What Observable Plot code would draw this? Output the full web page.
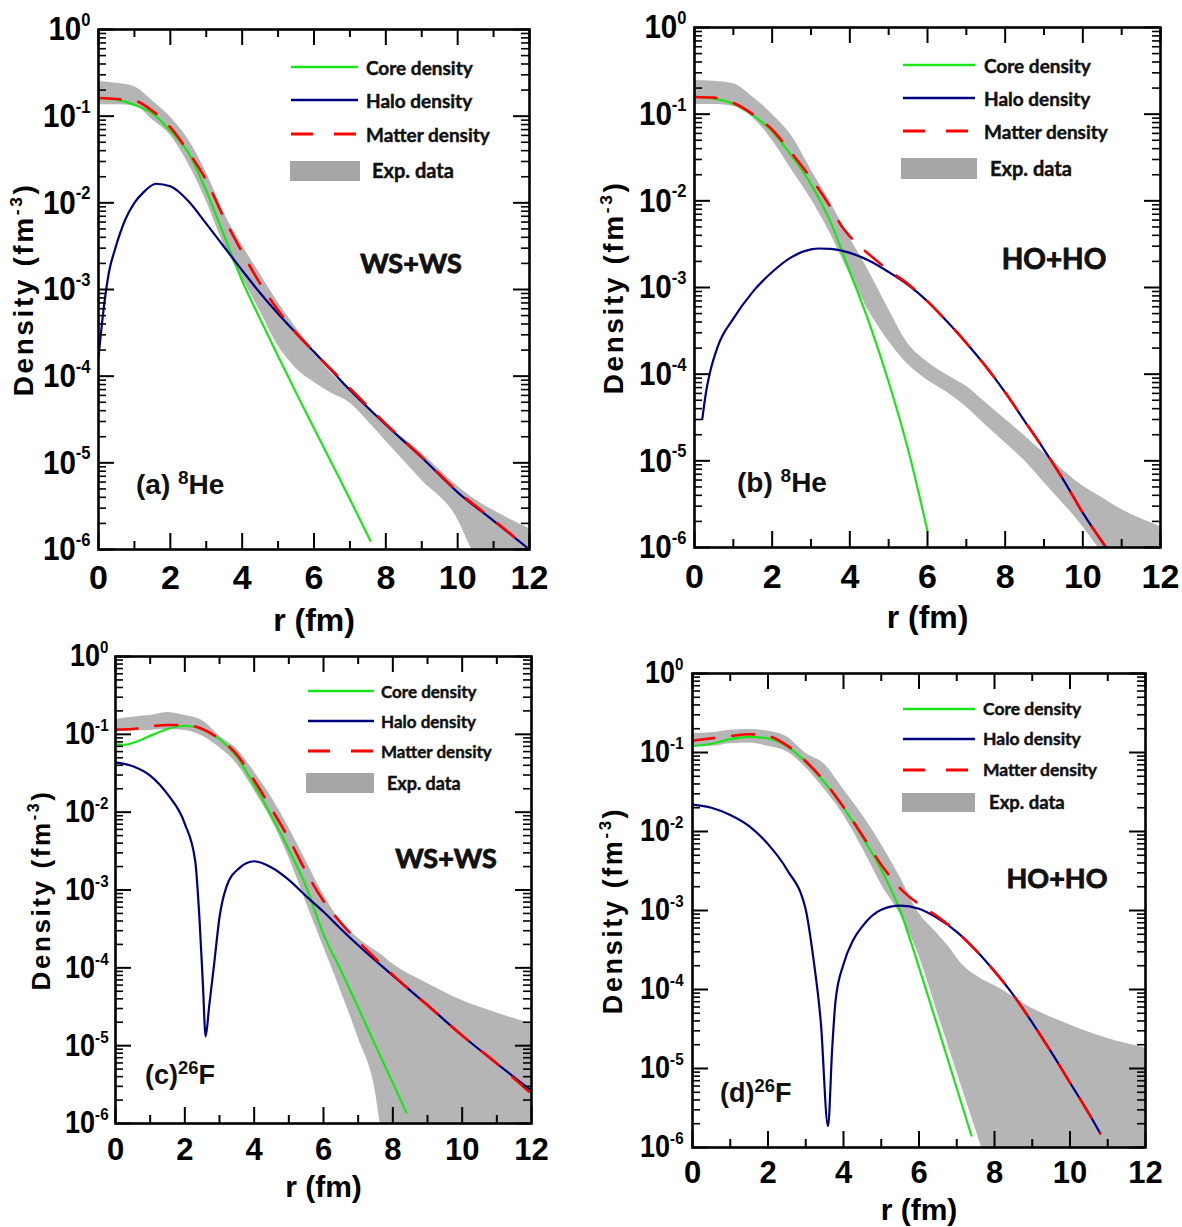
<!DOCTYPE html>
<html><head><meta charset="utf-8">
<script src="https://cdn.jsdelivr.net/npm/d3@7"></script>
<script src="https://cdn.jsdelivr.net/npm/@observablehq/plot@0.6"></script>
<style>
body{margin:0;background:#fff;}
#fig{position:relative;width:1182px;height:1227px;overflow:hidden;background:#fff}
.panel{position:absolute}
.txt{position:absolute;white-space:nowrap;color:#111;line-height:1}
.leg{font-family:Lato,"Open Sans",sans-serif;font-weight:700;transform:translateY(-50%);-webkit-text-stroke:0.45px #111}
.model{font-family:Lato,"Open Sans",sans-serif;font-weight:700;transform:translate(-50%,-50%);-webkit-text-stroke:0.9px #111}
.plab{font-family:"Liberation Sans Narrow","Arial Narrow","Liberation Sans",Arial,sans-serif;font-weight:700;transform:translateY(-50%)}
.plab sup{font-size:0.68em;vertical-align:0.5em;line-height:0}
</style></head><body><div id="fig"></div><script>
// ---------------- axis ticks ----------------
const xTicks = [0, 2, 4, 6, 8, 10, 12];
const xMinor = [1, 3, 5, 7, 9, 11];
const yTicks = [1e-6, 1e-5, 1e-4, 1e-3, 1e-2, 1e-1, 1];
const yTickLabels = ["10^{-6}", "10^{-5}", "10^{-4}", "10^{-3}", "10^{-2}", "10^{-1}", "10^{0}"];
const yMinor = d3.range(-6, 0).flatMap(e => d3.range(2, 10).map(k => k * Math.pow(10, e)));
const seriesNames = ["Core density", "Halo density", "Matter density", "Exp. data"];

// ---------------- (a) 8He WS+WS ----------------
const rCoreA = [0,0.5,1,1.5,2,2.5,3,3.5,4,4.5,5,5.5,6,6.5,7,7.57];
const coreA = [1.62e-1,1.55e-1,1.35e-1,1.08e-1,6.76e-2,3.80e-2,1.38e-2,4.17e-3,1.26e-3,4.57e-4,1.70e-4,6.46e-5,2.51e-5,9.77e-6,3.80e-6,1.26e-6];
const rHaloA = [0,0.15,0.3,0.45,0.75,1,1.25,1.6,2,2.5,3,3.5,4,4.5,5,6,7,8,9,10,11,12];
const haloA = [1.66e-4,6.31e-4,1.66e-3,2.82e-3,6.46e-3,1.0e-2,1.32e-2,1.66e-2,1.55e-2,1.05e-2,5.75e-3,3.09e-3,1.66e-3,9.12e-4,5.25e-4,1.91e-4,6.92e-5,2.75e-5,1.15e-5,4.57e-6,2.14e-6,1.0e-6];
const rMatterA = [0,0.5,1,1.5,2,2.5,3,3.5,4,4.5,5,5.5,6,7,8,9,10,11,12];
const matterA = [1.62e-1,1.58e-1,1.51e-1,1.15e-1,7.41e-2,3.89e-2,1.82e-2,6.61e-3,2.69e-3,1.17e-3,5.75e-4,3.16e-4,1.91e-4,7.24e-5,2.82e-5,1.17e-5,4.68e-6,2.19e-6,1.0e-6];
const rBandA = [0,0.5,1,1.5,2,2.5,3,3.5,4,4.5,5,5.5,6,6.5,7,7.5,8,9,10,10.4,11,12];
const hiA = [2.51e-1,2.40e-1,2.19e-1,1.51e-1,9.77e-2,5.37e-2,2.24e-2,7.59e-3,3.24e-3,1.51e-3,7.08e-4,3.63e-4,1.95e-4,1.05e-4,6.92e-5,4.37e-5,2.82e-5,1.29e-5,5.37e-6,3.98e-6,2.82e-6,1.74e-6];
const loA = [1.35e-1,1.35e-1,1.32e-1,9.12e-2,6.03e-2,2.82e-2,1.05e-2,3.24e-3,1.35e-3,5.62e-4,2.24e-4,1.23e-4,8.51e-5,6.31e-5,4.90e-5,3.02e-5,1.78e-5,6.31e-6,2.24e-6,1.0e-6,5.0e-7,3.16e-7];

// ---------------- (b) 8He HO+HO ----------------
const rCoreB = [0,0.5,1,1.5,2,2.5,3,3.5,4,4.5,5,5.5,6];
const coreB = [1.58e-1,1.51e-1,1.32e-1,9.77e-2,6.31e-2,3.31e-2,1.55e-2,5.75e-3,1.51e-3,3.89e-4,8.13e-5,1.35e-5,1.55e-6];
const rHaloB = [0.2,0.3,0.4,0.6,1,1.5,2,2.5,3,3.2,3.5,4,4.5,5,5.5,6,6.5,7,7.5,8,8.5,9,9.5,10,10.6];
const haloB = [3.02e-5,6.31e-5,1.05e-4,2.09e-4,4.37e-4,8.91e-4,1.51e-3,2.24e-3,2.75e-3,2.82e-3,2.79e-3,2.51e-3,2.04e-3,1.51e-3,1.07e-3,6.92e-4,4.07e-4,2.29e-4,1.23e-4,6.17e-5,2.88e-5,1.35e-5,6.03e-6,2.51e-6,1.0e-6];
const rMatterB = [0,0.5,1,1.5,2,2.5,3,3.5,3.8,4,4.5,5,5.5,6,6.5,7,7.5,8,8.5,9,9.5,10,10.6];
const matterB = [1.58e-1,1.55e-1,1.35e-1,1.0e-1,6.61e-2,3.55e-2,1.82e-2,8.51e-3,5.01e-3,3.89e-3,2.40e-3,1.58e-3,1.10e-3,6.92e-4,4.07e-4,2.29e-4,1.23e-4,6.17e-5,2.88e-5,1.35e-5,6.03e-6,2.51e-6,1.0e-6];
const rBandB = [0,0.5,1,1.5,2,2.5,3,3.5,4,4.5,5,5.5,6,6.5,7,7.5,8,8.5,9,10,10.4,11,12];
const hiB = [2.45e-1,2.40e-1,2.24e-1,1.58e-1,1.0e-1,5.62e-2,2.29e-2,9.55e-3,3.72e-3,1.51e-3,5.62e-4,2.24e-4,1.38e-4,9.77e-5,7.24e-5,4.68e-5,3.02e-5,1.95e-5,1.23e-5,5.13e-6,3.98e-6,2.75e-6,1.74e-6];
const loB = [1.29e-1,1.29e-1,1.23e-1,9.12e-2,5.01e-2,2.29e-2,1.05e-2,4.17e-3,1.41e-3,5.25e-4,2.40e-4,1.29e-4,8.51e-5,6.17e-5,4.17e-5,2.57e-5,1.62e-5,1.0e-5,5.62e-6,1.74e-6,1.0e-6,5.0e-7,3.16e-7];

// ---------------- (c) 26F WS+WS ----------------
const rCoreC = [0,0.25,0.5,1,1.5,2,2.5,3,3.5,4,4.5,5,5.5,6,6.5,7,7.5,8,8.39];
const coreC = [7.41e-2,7.33e-2,7.76e-2,9.55e-2,1.17e-1,1.29e-1,1.17e-1,8.71e-2,5.13e-2,2.24e-2,8.91e-3,3.31e-3,1.10e-3,2.69e-4,9.33e-5,3.09e-5,1.0e-5,3.31e-6,1.38e-6];
const rHaloC = [0,0.5,1,1.5,2,2.3,2.42,2.52,2.6,2.7,2.85,3.0,3.2,3.57,4.0,4.5,5,5.5,6,6.5,7,8,9,10,11,12];
const haloC = [4.37e-2,3.89e-2,2.95e-2,1.70e-2,7.08e-3,2.34e-3,4.47e-4,6.31e-5,1.32e-5,3.16e-5,1.17e-4,4.47e-4,1.10e-3,1.91e-3,2.34e-3,1.95e-3,1.35e-3,8.32e-4,5.25e-4,3.16e-4,1.95e-4,7.94e-5,3.31e-5,1.35e-5,5.89e-6,2.63e-6];
const rMatterC = [0,0.5,1,1.5,2,2.5,3,3.5,4,4.5,5,5.5,6,6.5,7,7.5,8,9,10,11,12];
const matterC = [1.15e-1,1.17e-1,1.26e-1,1.32e-1,1.32e-1,1.17e-1,8.71e-2,5.50e-2,2.57e-2,1.10e-2,4.57e-3,1.70e-3,7.24e-4,3.80e-4,2.19e-4,1.32e-4,8.13e-5,3.31e-5,1.35e-5,5.89e-6,2.40e-6];
const rBandC = [0,0.5,1,1.5,2,2.5,3,3.5,4,4.5,5,5.5,6,6.5,7,7.5,7.64,8,9,10,11,12];
const hiC = [1.55e-1,1.66e-1,1.74e-1,1.91e-1,1.74e-1,1.51e-1,9.55e-2,6.46e-2,3.31e-2,1.55e-2,6.31e-3,2.34e-3,8.71e-4,3.98e-4,2.40e-4,1.66e-4,1.51e-4,1.12e-4,6.31e-5,3.80e-5,2.63e-5,1.91e-5];
const loC = [1.07e-1,1.10e-1,1.12e-1,1.15e-1,1.12e-1,9.55e-2,6.76e-2,4.17e-2,1.91e-2,7.94e-3,2.63e-3,6.92e-4,1.86e-4,5.01e-5,1.26e-5,2.51e-6,1.0e-6,3.0e-7,3.0e-7,3.0e-7,3.0e-7,3.0e-7];

// ---------------- (d) 26F HO+HO ----------------
const rCoreD = [0,0.5,1,1.5,2,2.5,3,3.5,4,4.5,5,5.5,6,6.5,7,7.39];
const coreD = [1.20e-1,1.29e-1,1.48e-1,1.58e-1,1.51e-1,1.20e-1,7.59e-2,4.17e-2,2.0e-2,8.51e-3,3.31e-3,1.0e-3,1.91e-4,3.31e-5,5.62e-6,1.41e-6];
const rHaloD = [0,0.5,1,1.5,2,2.5,3,3.2,3.4,3.59,3.7,3.79,4,4.25,4.5,5,5.5,6,6.5,7,7.5,8,8.5,9,9.5,10,10.5,10.8];
const haloD = [2.19e-2,2.0e-2,1.62e-2,1.17e-2,6.92e-3,3.31e-3,1.02e-3,2.51e-4,3.80e-5,1.86e-6,1.78e-5,7.24e-5,2.09e-4,4.17e-4,6.31e-4,1.02e-3,1.15e-3,1.05e-3,7.94e-4,5.37e-4,3.16e-4,1.70e-4,8.51e-5,3.80e-5,1.62e-5,6.61e-6,2.69e-6,1.51e-6];
const rMatterD = [0,0.5,1,1.5,2,2.5,3,3.5,4,4.5,5,5.5,6,6.5,7,7.5,8,8.5,9,9.5,10,10.5,10.8];
const matterD = [1.41e-1,1.51e-1,1.62e-1,1.70e-1,1.62e-1,1.23e-1,7.76e-2,4.27e-2,2.04e-2,8.91e-3,3.80e-3,1.91e-3,1.20e-3,8.32e-4,5.37e-4,3.16e-4,1.70e-4,8.51e-5,3.80e-5,1.62e-5,6.61e-6,2.69e-6,1.51e-6];
const rBandD = [0,0.5,1,1.5,2,2.5,3,3.5,4,4.5,5,5.5,5.95,6.5,6.87,7,7.5,7.66,8,9,10,11,12];
const hiD = [1.74e-1,1.78e-1,1.91e-1,1.95e-1,1.86e-1,1.58e-1,9.77e-2,7.08e-2,3.39e-2,1.62e-2,6.92e-3,2.63e-3,1.0e-3,5.01e-4,3.09e-4,2.51e-4,1.51e-4,1.35e-4,1.12e-4,5.75e-5,3.55e-5,2.40e-5,1.82e-5];
const loD = [1.20e-1,1.20e-1,1.29e-1,1.32e-1,1.20e-1,1.02e-1,6.46e-2,3.39e-2,1.62e-2,6.17e-3,2.14e-3,8.91e-4,3.09e-4,4.90e-5,1.41e-5,9.12e-6,1.70e-6,1.0e-6,4.0e-7,2.5e-7,2.5e-7,2.5e-7,2.5e-7];

// ---------------- helpers ----------------
const zip = (r, v) => r.map((x, i) => ({r: x, v: v[i]}));
const zipBand = (r, lo, hi) => r.map((x, i) => ({r: x, lo: lo[i], hi: hi[i]}));
const COL = {core: "#19e619", halo: "#00007f", matter: "#ff0000", band: "#b5b5b5", swatch: "#a6a6a6"};
const NARROW = "'Liberation Sans Narrow','Arial Narrow','Liberation Sans',Arial,sans-serif";
const SANS = "'Liberation Sans',Arial,sans-serif";

const panels = [
  {left: 0, top: 0, width: 590, height: 640, frame: [98, 529, 29, 549],
   tickFs: 34, titleFs: 32, denFs: 28, xLabDy: 29, yLabDx: 8, rDy: 71, denDx: 74, denDy: 0,
   core: zip(rCoreA, coreA), halo: zip(rHaloA, haloA), matter: zip(rMatterA, matterA), band: zipBand(rBandA, loA, hiA),
   legend: {sx0: 291, sx1: 358, rows: [67, 100, 134], rect: [290, 360, 161, 181], tx: 366, ex: 372, ey: 170, fs: 19, efs: 20},
   model: {text: "WS+WS", x: 411, y: 262, fs: 27}, label: {html: "(a) <sup>8</sup>He", x: 136, y: 485, fs: 28}},
  {left: 590, top: 0, width: 592, height: 640, frame: [694, 1160, 27, 547],
   tickFs: 34, titleFs: 32, denFs: 28, xLabDy: 30, yLabDx: 8, rDy: 70, denDx: 80, denDy: 0,
   core: zip(rCoreB, coreB), halo: zip(rHaloB, haloB), matter: zip(rMatterB, matterB), band: zipBand(rBandB, loB, hiB),
   legend: {sx0: 903, sx1: 975, rows: [65, 98, 131], rect: [901, 977, 158, 179], tx: 984, ex: 990, ey: 168, fs: 19, efs: 20},
   model: {text: "HO+HO", x: 1054, y: 258, fs: 28}, label: {html: "(b) <sup>8</sup>He", x: 737, y: 483, fs: 28}},
  {left: 0, top: 640, width: 590, height: 587, frame: [115, 531, 656, 1123],
   tickFs: 31, titleFs: 30, denFs: 26, xLabDy: 27, yLabDx: 7, rDy: 64, denDx: 74, denDy: 0,
   core: zip(rCoreC, coreC), halo: zip(rHaloC, haloC), matter: zip(rMatterC, matterC), band: zipBand(rBandC, loC, hiC),
   legend: {sx0: 308, sx1: 374, rows: [691, 721, 751], rect: [306, 374, 773, 793], tx: 381, ex: 387, ey: 783, fs: 17, efs: 18},
   model: {text: "WS+WS", x: 446, y: 857, fs: 27}, label: {html: "(c)<sup>26</sup>F", x: 145, y: 1075, fs: 27}},
  {left: 590, top: 640, width: 592, height: 587, frame: [692, 1145, 673, 1147],
   tickFs: 31, titleFs: 30, denFs: 27, xLabDy: 26, yLabDx: 9, rDy: 63, denDx: 79, denDy: 0,
   core: zip(rCoreD, coreD), halo: zip(rHaloD, haloD), matter: zip(rMatterD, matterD), band: zipBand(rBandD, loD, hiD),
   legend: {sx0: 903, sx1: 975, rows: [709, 739, 770], rect: [902, 975, 793, 812], tx: 983, ex: 989, ey: 802, fs: 17.5, efs: 18.5},
   model: {text: "HO+HO", x: 1057, y: 877, fs: 27}, label: {html: "(d)<sup>26</sup>F", x: 720, y: 1093, fs: 27}}
];

// turn "a^{b}" into real superscript tspans; y tick labels get a slight horizontal squeeze
function supify(root) {
  d3.select(root).selectAll("text").each(function() {
    const t = this.textContent;
    if (!t.includes("^{")) return;
    const fs = parseFloat(getComputedStyle(this).fontSize) || 16;
    const isTick = t.startsWith("10^");
    const k = isTick ? 0.56 : 0.62;
    const parts = t.split(/(\^\{[^}]*\})/);
    const sel = d3.select(this);
    sel.text(null);
    if (!isTick) sel.attr("letter-spacing", "2.6px");
    let shifted = false;
    for (const p of parts) {
      if (!p) continue;
      if (p.startsWith("^{")) {
        sel.append("tspan").attr("font-size", fs * k).attr("dy", -fs * 0.42).text(p.slice(2, -1));
        shifted = true;
      } else {
        const ts = sel.append("tspan").text(p);
        if (shifted) { ts.attr("dy", fs * 0.42); shifted = false; }
      }
    }
    if (isTick) {
      const b = this.getBBox();
      const xr = b.x + b.width;
      const prev = this.getAttribute("transform") || "";
      this.setAttribute("transform", `${prev} translate(${xr},0) scale(0.87,1) translate(${-xr},0)`);
    }
  });
}

const fig = document.getElementById("fig");

for (const P of panels) {
  const [fx0, fx1, fy0, fy1] = P.frame;
  const mL = fx0 - P.left, mR = P.left + P.width - fx1, mT = fy0 - P.top, mB = P.top + P.height - fy1;
  const fw = fx1 - fx0, fh = fy1 - fy0;
  const majL = 16, minL = 8;
  const svg = Plot.plot({
    width: P.width, height: P.height,
    marginLeft: mL, marginRight: mR, marginTop: mT, marginBottom: mB,
    x: {type: "linear", domain: [0, 12], axis: null},
    y: {type: "log", domain: [1e-6, 1], axis: null},
    style: {background: "transparent", overflow: "visible"},
    marks: [
      Plot.areaY(P.band, {x: "r", y1: "lo", y2: "hi", fill: COL.band, curve: "monotone-x", clip: true}),
      Plot.line(P.core, {x: "r", y: "v", stroke: COL.core, strokeWidth: 2.2, curve: "monotone-x", clip: true}),
      Plot.line(P.halo, {x: "r", y: "v", stroke: COL.halo, strokeWidth: 2.2, curve: "monotone-x", clip: true}),
      Plot.line(P.matter, {x: "r", y: "v", stroke: COL.matter, strokeWidth: 2.6, strokeDasharray: "22,18", curve: "monotone-x", clip: true}),
      // inward ticks on all four sides
      Plot.tickX(xTicks, {x: d => d, insetTop: fh - majL, stroke: "#000", strokeWidth: 2}),
      Plot.tickX(xTicks, {x: d => d, insetBottom: fh - majL, stroke: "#000", strokeWidth: 2}),
      Plot.tickX(xMinor, {x: d => d, insetTop: fh - minL, stroke: "#000", strokeWidth: 2}),
      Plot.tickX(xMinor, {x: d => d, insetBottom: fh - minL, stroke: "#000", strokeWidth: 2}),
      Plot.tickY(yTicks, {y: d => d, insetRight: fw - majL, stroke: "#000", strokeWidth: 2}),
      Plot.tickY(yTicks, {y: d => d, insetLeft: fw - majL, stroke: "#000", strokeWidth: 2}),
      Plot.tickY(yMinor, {y: d => d, insetRight: fw - minL, stroke: "#000", strokeWidth: 1.6}),
      Plot.tickY(yMinor, {y: d => d, insetLeft: fw - minL, stroke: "#000", strokeWidth: 1.6}),
      Plot.frame({stroke: "#000", strokeWidth: 2.6}),
      // tick labels
      Plot.text(xTicks, {x: d => d, text: d => String(d), frameAnchor: "bottom", dy: P.xLabDy, lineAnchor: "middle",
        fontSize: P.tickFs, fontWeight: "bold", fontFamily: NARROW, fill: "#000"}),
      Plot.text(yTicks, {y: d => d, text: (d, i) => yTickLabels[i], frameAnchor: "left", dx: -P.yLabDx, textAnchor: "end", lineAnchor: "middle",
        fontSize: P.tickFs, fontWeight: "bold", fontFamily: NARROW, fill: "#000"}),
      // axis titles
      Plot.text(["r (fm)"], {text: d => d, frameAnchor: "bottom", dy: P.rDy, lineAnchor: "middle", textAnchor: "middle",
        fontSize: P.titleFs, fontWeight: "bold", fontFamily: SANS, fill: "#000"}),
      Plot.text(["Density (fm^{-3})"], {text: d => d, frameAnchor: "left", dx: -P.denDx, dy: P.denDy, rotate: -90, lineAnchor: "middle", textAnchor: "middle",
        fontSize: P.denFs, fontWeight: "bold", fontFamily: SANS, fill: "#000"})
    ]
  });
  const holder = document.createElement("div");
  holder.className = "panel";
  holder.style.left = P.left + "px";
  holder.style.top = P.top + "px";
  holder.appendChild(svg);
  fig.appendChild(holder);
  supify(svg);

  // legend
  const L = P.legend;
  const lsvg = d3.create("svg").attr("width", 1182).attr("height", 1227)
    .style("position", "absolute").style("left", "0px").style("top", "0px").style("pointer-events", "none");
  const kinds = [{stroke: COL.core, w: 2.5, dash: null}, {stroke: COL.halo, w: 2.5, dash: null}, {stroke: COL.matter, w: 2.8, dash: "22,21"}];
  kinds.forEach((k, i) => {
    lsvg.append("line").attr("x1", L.sx0).attr("x2", L.sx1).attr("y1", L.rows[i]).attr("y2", L.rows[i])
      .attr("stroke", k.stroke).attr("stroke-width", k.w).attr("stroke-dasharray", k.dash);
  });
  lsvg.append("rect").attr("x", L.rect[0]).attr("y", L.rect[2]).attr("width", L.rect[1] - L.rect[0]).attr("height", L.rect[3] - L.rect[2])
    .attr("fill", COL.swatch);
  fig.appendChild(lsvg.node());
  seriesNames.forEach((name, i) => {
    const d = document.createElement("div");
    d.className = "txt leg";
    d.textContent = name;
    if (i < 3) { d.style.left = L.tx + "px"; d.style.top = L.rows[i] + "px"; d.style.fontSize = L.fs + "px"; }
    else { d.style.left = L.ex + "px"; d.style.top = L.ey + "px"; d.style.fontSize = L.efs + "px"; }
    fig.appendChild(d);
  });
  // model annotation
  const m = document.createElement("div");
  m.className = "txt model";
  m.textContent = P.model.text;
  m.style.left = P.model.x + "px"; m.style.top = P.model.y + "px"; m.style.fontSize = P.model.fs + "px";
  fig.appendChild(m);
  // panel label
  const pl = document.createElement("div");
  pl.className = "txt plab";
  pl.innerHTML = P.label.html;
  pl.style.left = P.label.x + "px"; pl.style.top = P.label.y + "px"; pl.style.fontSize = P.label.fs + "px";
  fig.appendChild(pl);
}
</script></body></html>
